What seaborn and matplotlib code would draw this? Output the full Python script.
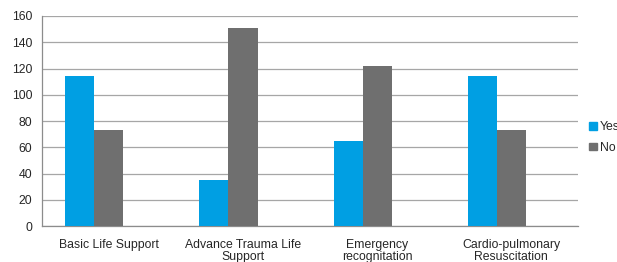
import numpy as np
import pandas as pd
import matplotlib
matplotlib.use("Agg")
import matplotlib.pyplot as plt
import seaborn as sns
from matplotlib.patches import Patch

categories = ["Basic Life Support", "Advance Trauma Life\nSupport",
              "Emergency\nrecognitation", "Cardio-pulmonary\nResuscitation"]
yes_vals = [114, 35, 65, 114]
no_vals = [73, 151, 122, 73]
series = ["Yes", "No"]
yticks = [0, 20, 40, 60, 80, 100, 120, 140, 160]

# third empty series keeps the Excel-like offset of the bars
df = pd.DataFrame({
    "cat": categories * 3,
    "series": ["Yes"] * 4 + ["No"] * 4 + ["_pad"] * 4,
    "val": yes_vals + no_vals + [0] * 4,
})

sns.set_style("white")
plt.rcParams["font.family"] = ["Liberation Sans", "DejaVu Sans"]

fig = plt.figure(figsize=(6.17, 2.62), dpi=100)
ax = fig.add_axes([0.068, 0.137, 0.869, 0.802])

palette = {"Yes": "#009FE3", "No": "#6F6F6F", "_pad": "#FFFFFF"}
sns.barplot(data=df, x="cat", y="val", hue="series", hue_order=["Yes", "No", "_pad"],
            palette=palette, width=0.65, saturation=1, gap=0, ax=ax,
            edgecolor="none", linewidth=0, zorder=3, legend=False)

ax.set_xlim(-0.5, 3.5)
ax.set_ylim(0, 160)
ax.set_yticks(yticks)
ax.yaxis.grid(True, color="#A6A6A6", linewidth=0.9, zorder=0)
ax.set_xlabel("")
ax.set_ylabel("")
for s in ["top", "right"]:
    ax.spines[s].set_visible(False)
for s in ["left", "bottom"]:
    ax.spines[s].set_color("#8C8C8C")
    ax.spines[s].set_linewidth(0.9)

ax.tick_params(axis="y", length=4, color="#8C8C8C", labelsize=8.8, pad=3)
ax.tick_params(axis="x", which="major", length=0, labelsize=8.8, pad=9)
for lbl in ax.get_xticklabels():
    lbl.set_linespacing(1.05)
ax.set_xticks(np.arange(-0.5, 4.0, 1.0), minor=True)
ax.tick_params(axis="x", which="minor", length=4, color="#8C8C8C")

handles = [Patch(color=palette[s]) for s in series]
fig.legend(handles, series, loc="center left", bbox_to_anchor=(0.955, 0.475),
           frameon=False, fontsize=8.8, handlelength=0.6, handleheight=0.6,
           handletextpad=0.25, labelspacing=0.7, borderaxespad=0, borderpad=0)

fig.savefig("out.png", dpi=100)
